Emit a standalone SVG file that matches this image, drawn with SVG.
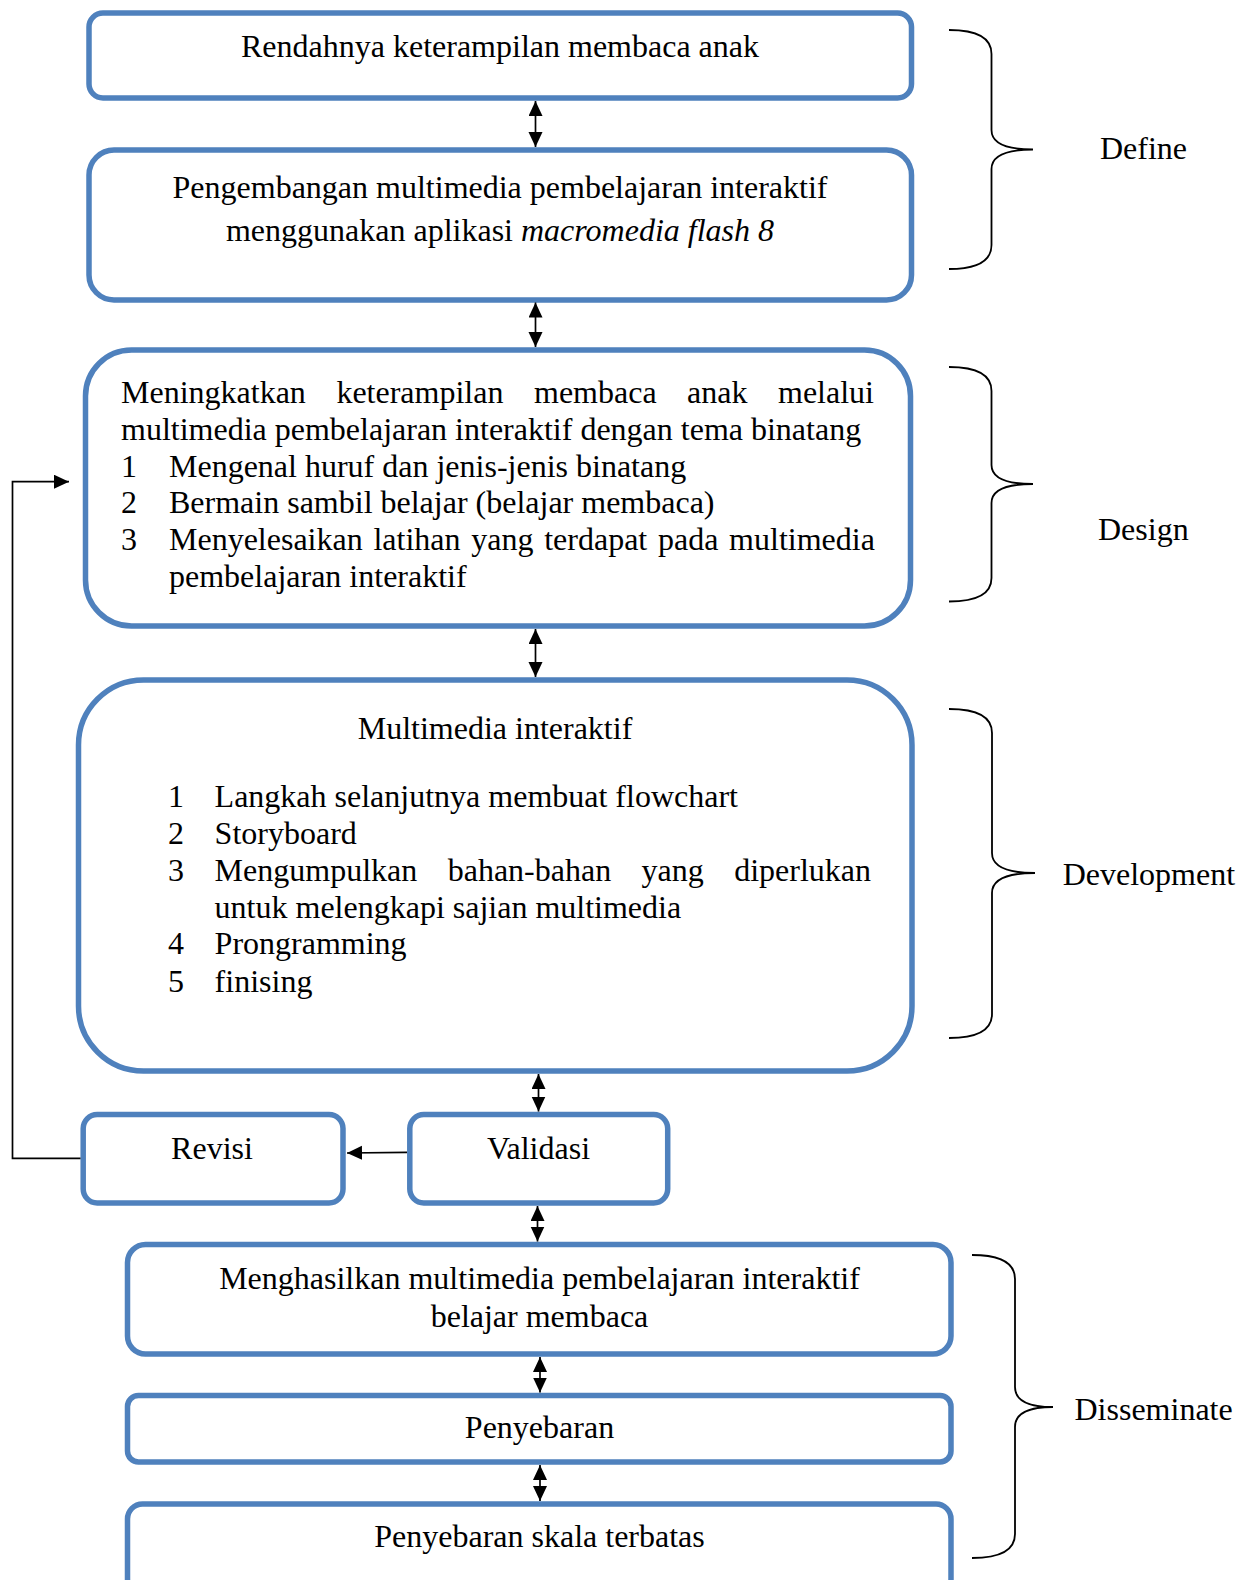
<svg xmlns="http://www.w3.org/2000/svg" width="1241" height="1580" viewBox="0 0 1241 1580">
<style>
.box{fill:#fff;stroke:#4F81BD;stroke-width:5.5}
.t{font-family:"Liberation Serif","Times New Roman",serif;font-size:32px;fill:#000}
.c{text-anchor:middle}
.conn{stroke:#000;stroke-width:1.7;fill:none}
.brace{stroke:#000;stroke-width:1.8;fill:none}
</style>
<defs>
<marker id="ah" markerUnits="userSpaceOnUse" markerWidth="18" markerHeight="18" refX="15" refY="7" orient="auto-start-reverse">
<path d="M0,0 L15,7 L0,14 z" fill="#000"/>
</marker>
</defs>
<rect width="1241" height="1580" fill="#fff"/>

<g id="define-box1">
<rect class="box" x="89" y="13" width="822.5" height="85" rx="14"/>
<text class="t c" x="500" y="57">Rendahnya keterampilan membaca anak</text>
</g>
<g id="define-box2">
<rect class="box" x="89" y="150" width="822.5" height="150" rx="25"/>
<text class="t c" x="500" y="198">Pengembangan multimedia pembelajaran interaktif</text>
<text class="t c" x="500" y="240.5">menggunakan aplikasi <tspan font-style="italic">macromedia flash 8</tspan></text>
</g>
<g id="design-box">
<rect class="box" x="85.5" y="350" width="825" height="276" rx="46"/>
<text class="t" y="403.3"><tspan x="121">Meningkatkan</tspan><tspan x="336.4">keterampilan</tspan><tspan x="534">membaca</tspan><tspan x="687.1">anak</tspan><tspan x="778">melalui</tspan></text>
<text class="t" x="121" y="440">multimedia pembelajaran interaktif dengan tema binatang</text>
<text class="t" x="121" y="476.7">1</text>
<text class="t" x="169" y="476.7">Mengenal huruf dan jenis-jenis binatang</text>
<text class="t" x="121" y="513.3">2</text>
<text class="t" x="169" y="513.3">Bermain sambil belajar (belajar membaca)</text>
<text class="t" x="121" y="550">3</text>
<text class="t" y="550"><tspan x="169">Menyelesaikan</tspan><tspan x="373.4">latihan</tspan><tspan x="471.2">yang</tspan><tspan x="544.2">terdapat</tspan><tspan x="658">pada</tspan><tspan x="729.1">multimedia</tspan></text>
<text class="t" x="169" y="586.7">pembelajaran interaktif</text>
</g>
<g id="development-box">
<rect class="box" x="78.5" y="680" width="833.5" height="391" rx="65"/>
<text class="t c" x="495" y="739.3">Multimedia interaktif</text>
<text class="t" x="168" y="807.3">1</text>
<text class="t" x="214.6" y="807.3">Langkah selanjutnya membuat flowchart</text>
<text class="t" x="168" y="844">2</text>
<text class="t" x="214.6" y="844">Storyboard</text>
<text class="t" x="168" y="880.7">3</text>
<text class="t" y="880.7"><tspan x="214.6">Mengumpulkan</tspan><tspan x="447.7">bahan-bahan</tspan><tspan x="641.6">yang</tspan><tspan x="734.2">diperlukan</tspan></text>
<text class="t" x="214.6" y="917.7">untuk melengkapi sajian multimedia</text>
<text class="t" x="168" y="954.3">4</text>
<text class="t" x="214.6" y="954.3">Prongramming</text>
<text class="t" x="168" y="991.7">5</text>
<text class="t" x="214.6" y="991.7">finising</text>
</g>
<g id="revisi">
<rect class="box" x="83.2" y="1114.5" width="259.8" height="88.5" rx="14"/>
<text class="t c" x="212" y="1159">Revisi</text>
</g>
<g id="validasi">
<rect class="box" x="409.8" y="1114.5" width="257.9" height="88.5" rx="14"/>
<text class="t c" x="538.5" y="1159">Validasi</text>
</g>
<g id="disseminate-box1">
<rect class="box" x="127.5" y="1244.5" width="823.5" height="109.5" rx="18"/>
<text class="t c" x="539.5" y="1289">Menghasilkan multimedia pembelajaran interaktif</text>
<text class="t c" x="539.5" y="1327">belajar membaca</text>
</g>
<g id="disseminate-box2">
<rect class="box" x="127.5" y="1395.5" width="823.5" height="66.5" rx="11"/>
<text class="t c" x="539.5" y="1438.3">Penyebaran</text>
</g>
<g id="disseminate-box3">
<rect class="box" x="127.5" y="1504" width="823.5" height="90" rx="15"/>
<text class="t c" x="539.5" y="1546.7">Penyebaran skala terbatas</text>
</g>

<g id="connectors">
<line class="conn" x1="535.5" y1="101" x2="535.5" y2="147" marker-start="url(#ah)" marker-end="url(#ah)"/>
<line class="conn" x1="535.5" y1="302.5" x2="535.5" y2="347" marker-start="url(#ah)" marker-end="url(#ah)"/>
<line class="conn" x1="535.5" y1="629" x2="535.5" y2="677" marker-start="url(#ah)" marker-end="url(#ah)"/>
<line class="conn" x1="538.5" y1="1074" x2="538.5" y2="1111.5" marker-start="url(#ah)" marker-end="url(#ah)"/>
<line class="conn" x1="537.5" y1="1206" x2="537.5" y2="1241.5" marker-start="url(#ah)" marker-end="url(#ah)"/>
<line class="conn" x1="540" y1="1357" x2="540" y2="1392.5" marker-start="url(#ah)" marker-end="url(#ah)"/>
<line class="conn" x1="540" y1="1465" x2="540" y2="1501" marker-start="url(#ah)" marker-end="url(#ah)"/>
<line class="conn" x1="407" y1="1152.3" x2="347" y2="1153" marker-end="url(#ah)"/>
<polyline class="conn" points="80.5,1158.3 12.5,1158.3 12.5,481.7 69,481.7" marker-end="url(#ah)"/>
</g>

<g id="brace-define">
<path class="brace" d="M949,30 C975,30 991.5,37 991.5,54 L991.5,130 C991.5,143 1005,149.5 1033,149.5 C1005,149.5 991.5,156 991.5,169 L991.5,245 C991.5,262 975,269 949,269"/>
<text class="t" x="1100" y="159">Define</text>
</g>
<g id="brace-design">
<path class="brace" d="M949,367 C975,367 991.5,374 991.5,391 L991.5,465 C991.5,478 1005,484 1033,484 C1005,484 991.5,490 991.5,503 L991.5,578 C991.5,595 975,601.5 949,601.5"/>
<text class="t" x="1098" y="540">Design</text>
</g>
<g id="brace-development">
<path class="brace" d="M949,709 C976,709 992,716 992,733 L992,853 C992,866 1006,873 1035,873 C1006,873 992,880 992,893 L992,1014 C992,1031 976,1038 949,1038"/>
<text class="t" x="1062.7" y="885">Development</text>
</g>
<g id="brace-disseminate">
<path class="brace" d="M972,1255 C998,1255 1015,1262 1015,1279 L1015,1387 C1015,1400 1028,1407 1053,1407 C1028,1407 1015,1414 1015,1427 L1015,1534 C1015,1551 998,1558 972,1558"/>
<text class="t" x="1074.5" y="1420">Disseminate</text>
</g>
</svg>
